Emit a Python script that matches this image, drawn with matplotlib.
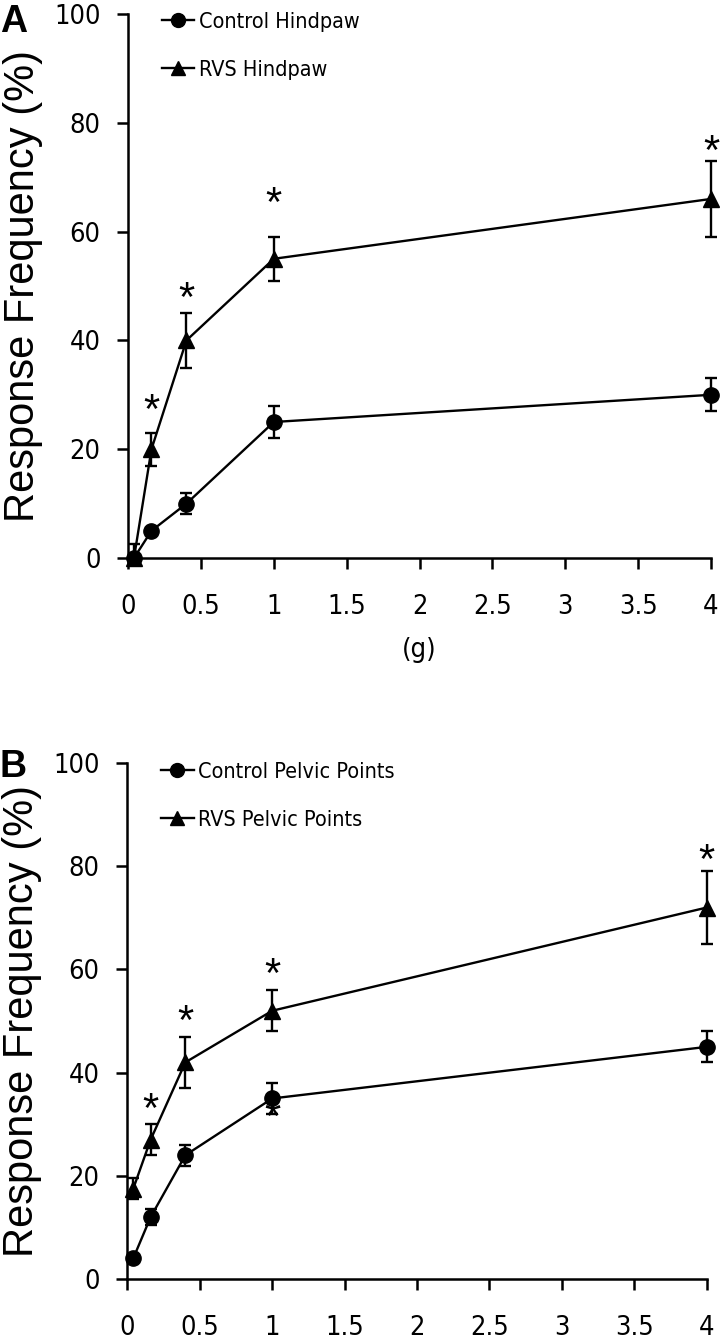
import matplotlib
matplotlib.use("Agg")
import matplotlib.pyplot as plt
from matplotlib.lines import Line2D
from matplotlib import font_manager

# von Frey filament forces (g)
force = [0.04, 0.16, 0.4, 1, 4]

# panel A - hindpaw
ctrl_hind = [0, 5, 10, 25, 30]
ctrl_hind_err = [0, 0.5, 2, 3, 3]
rvs_hind = [0, 20, 40, 55, 66]
rvs_hind_err = [2.5, 3, 5, 4, 7]
star_x_a = [0.16, 0.4, 1, 4]
star_y_a = [28.7, 49.3, 66.7, 76.3]

# panel B - pelvic points
ctrl_pelvic = [4, 12, 24, 35, 45]
ctrl_pelvic_err = [0.5, 1.5, 2, 3, 3]
rvs_pelvic = [17.5, 27, 42, 52, 72]
rvs_pelvic_err = [2, 3, 5, 4, 7]
star_x_b = [0.16, 0.4, 1, 4]
star_y_b = [34.5, 51.5, 60.7, 82.7]
hidden_star_b = (1, 33)

x_ticks = [0, 0.5, 1, 1.5, 2, 2.5, 3, 3.5, 4]
x_ticklabels = ["0", "0.5", "1", "1.5", "2", "2.5", "3", "3.5", "4"]
y_ticks = [0, 20, 40, 60, 80, 100]

regular = ["Liberation Sans", "DejaVu Sans"]
# narrow face if one is around
cond = font_manager.FontProperties(family="DejaVu Sans", stretch="condensed")
cond_file = font_manager.findfont(cond)
if "Condensed" in cond_file:
    tick_font = font_manager.FontProperties(fname=cond_file, size=19.5)
    leg_font = font_manager.FontProperties(fname=cond_file, size=15.5)
else:
    tick_font = font_manager.FontProperties(family=regular, size=19)
    leg_font = font_manager.FontProperties(family=regular, size=15)

fig = plt.figure(figsize=(7.2, 13.42), dpi=100)
ax_a = fig.add_axes([0.178, 0.5842, 0.8095, 0.4054])
ax_b = fig.add_axes([0.177, 0.0469, 0.8045, 0.3845])


def lower_err(vals, errs):
    return [min(v, e) for v, e in zip(vals, errs)]


def star(ax, x, y, z=4):
    ax.annotate("*", (x, y), xytext=(0, -7), textcoords="offset points",
                ha="center", va="center", fontsize=30, family=regular, zorder=z)


def draw_panel(ax, ctrl, ctrl_err, rvs, rvs_err, labels, sx, sy):
    ax.errorbar(force, ctrl, yerr=[lower_err(ctrl, ctrl_err), ctrl_err],
                color="black", lw=1.7, marker="o", ms=11, capsize=4.5,
                capthick=1.7, elinewidth=1.7, clip_on=False, zorder=3)
    ax.errorbar(force, rvs, yerr=[lower_err(rvs, rvs_err), rvs_err],
                color="black", lw=1.7, marker="^", ms=11, capsize=4.5,
                capthick=1.7, elinewidth=1.7, clip_on=False, zorder=3)
    for x, y in zip(sx, sy):
        star(ax, x, y)
    ax.set_xlim(0, 4)
    ax.set_ylim(0, 100)
    ax.set_xticks(x_ticks)
    ax.set_xticklabels(x_ticklabels, fontproperties=tick_font)
    ax.set_yticks(y_ticks)
    ax.set_yticklabels([str(t) for t in y_ticks], fontproperties=tick_font)
    ax.tick_params(axis="x", direction="out", length=8, width=1.8, pad=18)
    ax.tick_params(axis="y", direction="out", length=8, width=1.8, pad=12)
    for s in ["top", "right"]:
        ax.spines[s].set_visible(False)
    for s in ["left", "bottom"]:
        ax.spines[s].set_linewidth(1.8)
    ax.set_ylabel("Response Frequency (%)", family=regular, fontsize=30,
                  labelpad=8)
    handles = [Line2D([], [], color="black", lw=1.7, marker="o", ms=10),
               Line2D([], [], color="black", lw=1.7, marker="^", ms=10)]
    ax.legend(handles, labels, loc="upper left", bbox_to_anchor=(0.025, 1.04),
              frameon=False, handlelength=1.5, handletextpad=0.2,
              labelspacing=1.3, prop=leg_font)


draw_panel(ax_a, ctrl_hind, ctrl_hind_err, rvs_hind, rvs_hind_err,
           ["Control Hindpaw", "RVS Hindpaw"], star_x_a, star_y_a)
draw_panel(ax_b, ctrl_pelvic, ctrl_pelvic_err, rvs_pelvic, rvs_pelvic_err,
           ["Control Pelvic Points", "RVS Pelvic Points"], star_x_b, star_y_b)
star(ax_b, hidden_star_b[0], hidden_star_b[1], z=2)

ax_a.set_xlabel("(g)", fontproperties=tick_font, labelpad=12)

fig.text(0.0, 0.997, "A", fontsize=27, fontweight="bold", family=regular,
         va="top", ha="left")
fig.text(0.0, 0.442, "B", fontsize=27, fontweight="bold", family=regular,
         va="top", ha="left")

fig.savefig("out.png", dpi=100)
